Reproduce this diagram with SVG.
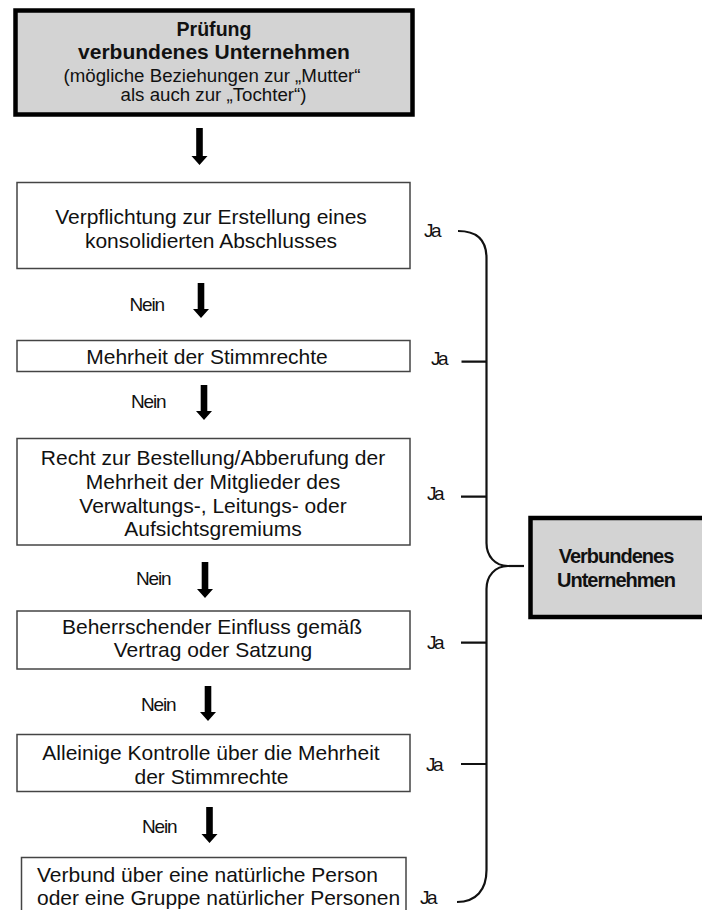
<svg xmlns="http://www.w3.org/2000/svg" width="702" height="910" viewBox="0 0 702 910">
<defs>
<style>
text{font-family:"Liberation Sans",Arial,sans-serif;fill:#111}
.box{fill:#fff;stroke:#444;stroke-width:1.5}
.hl{fill:#d3d3d3;stroke:#000;stroke-width:4.5}
.bt{font-size:21px;text-anchor:middle}
.tb{font-weight:bold;text-anchor:middle}
.tr{font-size:18.7px;text-anchor:middle}
.ja{font-size:19px;letter-spacing:-2.5px}
.nein{font-size:19px;letter-spacing:-1.2px}
.arr{fill:#000}
.br{fill:none;stroke:#111;stroke-width:2.2}
</style>
</defs>
<g id="start">
<rect class="hl" x="15.5" y="10.5" width="397" height="104"/>
<text class="tb" x="214" y="35.5" font-size="19.6">Prüfung</text>
<text class="tb" x="214" y="59" font-size="21">verbundenes Unternehmen</text>
<text class="tr" x="212" y="81.5">(mögliche Beziehungen zur „Mutter“</text>
<text class="tr" x="213.5" y="100.5">als auch zur „Tochter“)</text>
</g>
<g id="n1">
<rect class="box" x="17" y="182.5" width="393" height="86"/>
<text class="bt" x="211" y="224">Verpflichtung zur Erstellung eines</text>
<text class="bt" x="211" y="248">konsolidierten Abschlusses</text>
</g>
<g id="n2">
<rect class="box" x="17" y="340.5" width="393" height="31"/>
<text class="bt" x="207" y="364">Mehrheit der Stimmrechte</text>
</g>
<g id="n3">
<rect class="box" x="17" y="438.5" width="393" height="106.5"/>
<text class="bt" x="213" y="465">Recht zur Bestellung/Abberufung der</text>
<text class="bt" x="213" y="489">Mehrheit der Mitglieder des</text>
<text class="bt" x="213" y="512.5">Verwaltungs-, Leitungs- oder</text>
<text class="bt" x="213" y="536">Aufsichtsgremiums</text>
</g>
<g id="n4">
<rect class="box" x="17" y="611" width="393" height="58"/>
<text class="bt" x="212" y="633.5">Beherrschender Einfluss gemäß</text>
<text class="bt" x="213" y="657">Vertrag oder Satzung</text>
</g>
<g id="n5">
<rect class="box" x="17" y="734.5" width="393" height="57"/>
<text class="bt" x="211" y="760">Alleinige Kontrolle über die Mehrheit</text>
<text class="bt" x="211.5" y="784">der Stimmrechte</text>
</g>
<g id="n6">
<rect class="box" x="21.5" y="857.5" width="384.5" height="60"/>
<text x="37" y="882" font-size="21">Verbund über eine natürliche Person</text>
<text x="37" y="905" font-size="21">oder eine Gruppe natürlicher Personen</text>
</g>
<g id="result">
<rect class="hl" x="530.5" y="518" width="180" height="99" stroke-width="4"/>
<text x="616" y="563" font-size="20" font-weight="bold" text-anchor="middle" letter-spacing="-1">Verbundenes</text>
<text x="616" y="587" font-size="20" font-weight="bold" text-anchor="middle" letter-spacing="-1">Unternehmen</text>
</g>
<g id="connectors">
<path class="arr" d="M196.2,128H202.8V156H207.5L199.5,165L191.5,156H196.2Z"/>
<path class="arr" d="M197.7,283H204.3V309H209L201,318L193,309H197.7Z"/>
<path class="arr" d="M200.7,385H207.3V411H212L204,420L196,411H200.7Z"/>
<path class="arr" d="M201.7,562H208.3V589H213L205,598L197,589H201.7Z"/>
<path class="arr" d="M204.7,686H211.3V712H216L208,721L200,712H204.7Z"/>
<path class="arr" d="M206.2,807H212.8V834H217.5L209.5,843L201.5,834H206.2Z"/>
<text class="nein" x="129.5" y="311">Nein</text>
<text class="nein" x="131" y="408">Nein</text>
<text class="nein" x="136" y="585">Nein</text>
<text class="nein" x="141" y="710.5">Nein</text>
<text class="nein" x="142" y="833">Nein</text>
<text class="ja" x="424" y="237">Ja</text>
<text class="ja" x="431" y="365">Ja</text>
<text class="ja" x="427" y="500">Ja</text>
<text class="ja" x="427" y="649">Ja</text>
<text class="ja" x="426" y="771">Ja</text>
<text class="ja" x="420" y="904">Ja</text>
<path class="br" d="M458,231C478,231 486.5,241 486.5,258V543C486.5,556 495,566 508,566C495,566 486.5,576 486.5,589V870C486.5,890 476,902 457,902"/>
<path class="br" d="M508,566H524"/>
<path class="br" d="M461.5,361.7H486.5M461,496.7H486.5M461,642.7H486.5M461,764H486.5"/>
</g>
</svg>
